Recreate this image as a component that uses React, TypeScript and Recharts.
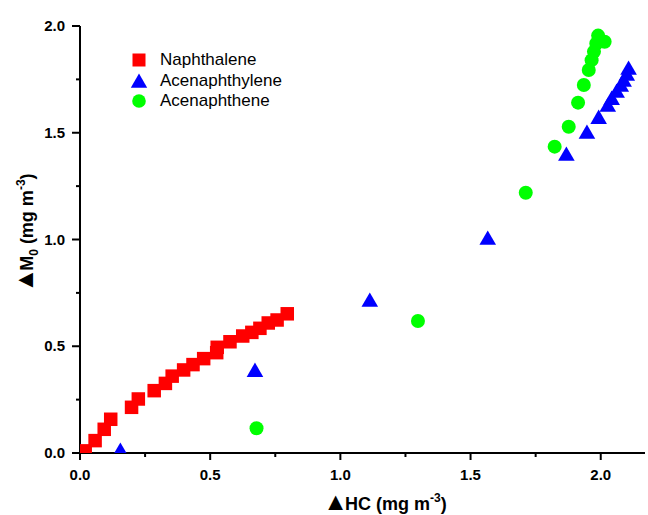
import {
  ScatterChart,
  Scatter,
  XAxis,
  YAxis,
  Legend,
  Label,
} from 'recharts'

// ΔHC (x) vs ΔM0 (y), both in mg m-3
const naphthalene = [
  [0.02, 0.01], [0.058, 0.058], [0.093, 0.111], [0.118, 0.158],
  [0.198, 0.214], [0.224, 0.253], [0.285, 0.292], [0.328, 0.326],
  [0.354, 0.36], [0.398, 0.389], [0.434, 0.414], [0.475, 0.442],
  [0.525, 0.47], [0.527, 0.495], [0.576, 0.521], [0.625, 0.548],
  [0.66, 0.565], [0.691, 0.584], [0.723, 0.609], [0.757, 0.623],
  [0.796, 0.652],
]

const acenaphthylene = [
  [0, 0], [0.155, 0.005], [0.672, 0.379], [1.113, 0.707], [1.566, 0.998],
  [1.868, 1.391], [1.947, 1.494], [1.992, 1.564], [2.027, 1.621],
  [2.042, 1.653], [2.061, 1.686], [2.077, 1.714], [2.088, 1.738],
  [2.1, 1.766], [2.107, 1.794],
]

const acenaphthene = [
  [0.678, 0.116], [1.298, 0.618], [1.712, 1.219], [1.823, 1.435],
  [1.877, 1.528], [1.913, 1.641], [1.935, 1.724], [1.954, 1.794],
  [1.965, 1.84], [1.974, 1.88], [1.983, 1.918], [1.99, 1.955],
  [2.015, 1.926],
]

const xTicks = [0, 0.25, 0.5, 0.75, 1, 1.25, 1.5, 1.75, 2]
const yTicks = [0, 0.25, 0.5, 0.75, 1, 1.25, 1.5, 1.75, 2]

const legendItems = [
  { name: 'Naphthalene', shape: 'square', color: '#FF0000' },
  { name: 'Acenaphthylene', shape: 'triangle', color: '#0000FF' },
  { name: 'Acenaphthene', shape: 'circle', color: '#00FF00' },
]

const toPoints = (arr: number[][]) => arr.map(([x, y]) => ({ x, y }))

const FONT = '"Liberation Sans", Arial, sans-serif'

const isMajor = (v: number) => Math.abs(v * 2 - Math.round(v * 2)) < 1e-6

// marker shapes, centred on the point the scales give
const squareShape = (p: any) => (
  <rect x={p.cx - 6.75} y={p.cy - 6.75} width={13.5} height={13.5} fill="#FF0000" />
)
const triangleShape = (p: any) => (
  <polygon
    points={`${p.cx},${p.cy - 9.5} ${p.cx + 8.3},${p.cy + 4.8} ${p.cx - 8.3},${p.cy + 4.8}`}
    fill="#0000FF"
  />
)
const circleShape = (p: any) => <circle cx={p.cx} cy={p.cy} r={7} fill="#00FF00" />

const XTick = (props: any) => {
  const { x, y, payload } = props
  const major = isMajor(payload.value)
  return (
    <g>
      <line x1={x} x2={x} y1={y} y2={y + (major ? 7 : 4)} stroke="#000" strokeWidth={2} />
      {major && (
        <text x={x} y={y + 27} textAnchor="middle" fontSize={15} fontWeight="bold" fontFamily={FONT} fill="#000">
          {payload.value.toFixed(1)}
        </text>
      )}
    </g>
  )
}

const YTick = (props: any) => {
  const { x, y, payload } = props
  const major = isMajor(payload.value)
  return (
    <g>
      <line x1={x} x2={x - (major ? 8 : 4)} y1={y} y2={y} stroke="#000" strokeWidth={2} />
      {major && (
        <text x={x - 15} y={y + 5} textAnchor="end" fontSize={15} fontWeight="bold" fontFamily={FONT} fill="#000">
          {payload.value.toFixed(1)}
        </text>
      )}
    </g>
  )
}

const LegendIcon = ({ shape, color }: { shape: string; color: string }) => (
  <svg width={18} height={18} style={{ marginRight: 12, flex: 'none' }}>
    {shape === 'square' && <rect x={2.5} y={2.5} width={13} height={13} fill={color} />}
    {shape === 'triangle' && <polygon points="9,1.5 17.2,15.8 0.8,15.8" fill={color} />}
    {shape === 'circle' && <circle cx={9} cy={9} r={6.8} fill={color} />}
  </svg>
)

const renderLegend = () => (
  <div style={{ fontFamily: FONT, fontSize: 17, color: '#000' }}>
    {legendItems.map((item) => (
      <div key={item.name} style={{ display: 'flex', alignItems: 'center', height: 20.5 }}>
        <LegendIcon shape={item.shape} color={item.color} />
        <span>{item.name}</span>
      </div>
    ))}
  </div>
)

const App = () => {
  return (
    <div style={{ position: 'absolute', left: 0, top: 0, background: '#fff' }}>
      <ScatterChart
        width={648}
        height={515}
        margin={{ top: 26, right: 3, bottom: 0, left: 0 }}
      >
        <XAxis
          type="number"
          dataKey="x"
          domain={[0, 2.17]}
          ticks={xTicks}
          allowDataOverflow
          height={62}
          axisLine={{ stroke: '#000', strokeWidth: 2 }}
          tickLine={false}
          tickSize={0}
          tickMargin={0}
          tick={<XTick />}
          interval={0}
        >
          <Label
            content={() => (
              <text x={385} y={510} textAnchor="middle" fontSize={18} fontWeight="bold" fontFamily={FONT} fill="#000">
                <tspan fontSize={25}>▲</tspan>
                <tspan dx={-3}>HC (mg m</tspan>
                <tspan dy={-8} fontSize={12}>-3</tspan>
                <tspan dy={8}>)</tspan>
              </text>
            )}
          />
        </XAxis>
        <YAxis
          type="number"
          dataKey="y"
          domain={[0, 2]}
          ticks={yTicks}
          allowDataOverflow
          width={80}
          axisLine={{ stroke: '#000', strokeWidth: 2 }}
          tickLine={false}
          tickSize={0}
          tickMargin={0}
          tick={<YTick />}
          interval={0}
        >
          <Label
            content={() => (
              <text
                x={33}
                y={233}
                transform="rotate(-90, 33, 233)"
                textAnchor="middle"
                fontSize={18}
                fontWeight="bold"
                fontFamily={FONT}
                fill="#000"
              >
                <tspan fontSize={25}>▲</tspan>
                <tspan dx={-3}>M</tspan>
                <tspan dy={5} fontSize={12}>0</tspan>
                <tspan dy={-5}> (mg m</tspan>
                <tspan dy={-8} fontSize={12}>-3</tspan>
                <tspan dy={8}>)</tspan>
              </text>
            )}
          />
        </YAxis>
        <Legend
          layout="vertical"
          align="center"
          verticalAlign="middle"
          wrapperStyle={{ left: 130, top: 50, width: 200 }}
          content={renderLegend}
        />
        <Scatter
          name="Acenaphthylene"
          data={toPoints(acenaphthylene)}
          fill="#0000FF"
          shape={triangleShape}
          isAnimationActive={false}
        />
        <Scatter
          name="Acenaphthene"
          data={toPoints(acenaphthene)}
          fill="#00FF00"
          shape={circleShape}
          isAnimationActive={false}
        />
        <Scatter
          name="Naphthalene"
          data={toPoints(naphthalene)}
          fill="#FF0000"
          shape={squareShape}
          isAnimationActive={false}
        />
      </ScatterChart>
    </div>
  )
}

export default App
